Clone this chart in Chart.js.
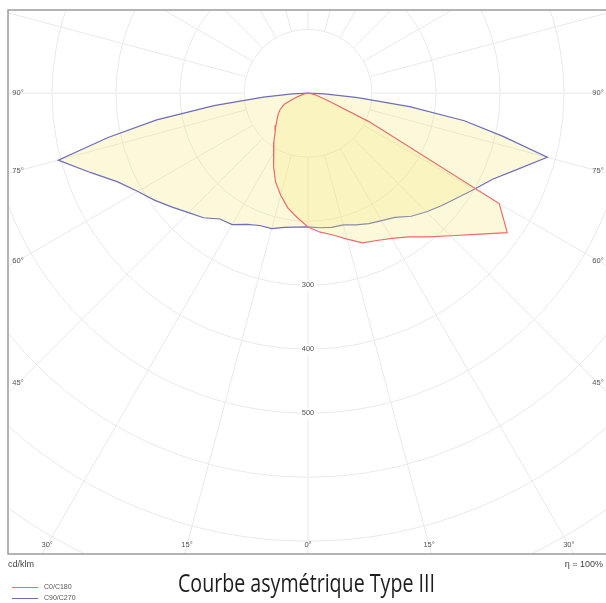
<!DOCTYPE html>
<html>
<head>
<meta charset="utf-8">
<script src="https://cdn.jsdelivr.net/npm/chart.js@4.4.1/dist/chart.umd.min.js"></script>
<style>
    body { margin: 0; background: #ffffff; }
    #caixa { width: 606px; height: 603px; position: relative; }
</style>
</head>
<body>
<div id="caixa"><canvas id="grafico-polar"></canvas></div>
<script>
// angulos gamma (0 = vertical para baixo) e intensidades em cd/klm
const gammaAngles = [0, 5, 10, 15, 20, 25, 30, 35, 40, 45, 50, 55, 60, 65, 70, 75, 77.5, 80, 82.5, 85, 87.5, 90];
const c0Values   = [209, 218, 225, 236, 249, 254, 262, 274, 293, 315, 343, 380, 345, 105, 32, 15, 11, 8, 5, 3, 1, 0];
const c180Values = [209, 195, 182, 165, 148, 127, 108, 93, 80, 71, 63, 57, 50, 41, 22, 10, 7, 5, 3, 2, 1, 0];
const c90Values  = [209, 211, 213, 213, 219, 225, 230, 237, 251, 262, 273, 285, 300, 318, 348, 387, 312, 248, 160, 78, 26, 0];
const c270Values = [209, 210, 213, 219, 220, 226, 237, 240, 254, 264, 277, 292, 307, 328, 362, 404, 320, 240, 148, 70, 25, 0];

const seriesNames = ['C0/C180', 'C90/C270'];
const gridCircles = [100, 200, 300, 400, 500, 600, 700, 800, 900, 1000];
const radialTicks = [300, 400, 500];
const sideAngles = [90, 75, 60, 45];
const bottomAngles = [-30, -15, 0, 15, 30];

document.addEventListener("DOMContentLoaded", function () {
    const ctx = document.getElementById('grafico-polar').getContext('2d');
    const rad = Math.PI / 180;

    // metade esquerda de 90 ate 0, depois metade direita de 0 ate 90
    function montarCurva(direita, esquerda) {
        const pts = [];
        for (let i = gammaAngles.length - 1; i >= 0; i--) {
            const g = gammaAngles[i] * rad;
            pts.push({ x: -esquerda[i] * Math.sin(g), y: -esquerda[i] * Math.cos(g) });
        }
        for (let i = 1; i < gammaAngles.length; i++) {
            const g = gammaAngles[i] * rad;
            pts.push({ x: direita[i] * Math.sin(g), y: -direita[i] * Math.cos(g) });
        }
        return pts;
    }

    const gradePolar = {
        id: 'gradePolar',
        beforeDatasetsDraw(chart) {
            const c = chart.ctx, a = chart.chartArea;
            const xs = chart.scales.x, ys = chart.scales.y;
            const cx = xs.getPixelForValue(0), cy = ys.getPixelForValue(0);
            const px = v => xs.getPixelForValue(v) - cx;
            c.save();
            c.beginPath();
            c.rect(a.left, a.top, a.right - a.left + 5, a.bottom - a.top);
            c.clip();
            c.strokeStyle = '#e9e9e9';
            c.lineWidth = 1;
            gridCircles.forEach(r => {
                c.beginPath();
                c.arc(cx, cy, px(r), 0, Math.PI * 2);
                c.stroke();
            });
            const r0 = px(gridCircles[0]), r1 = px(gridCircles[gridCircles.length - 1]);
            for (let ang = 0; ang < 360; ang += 15) {
                const s = Math.sin(ang * rad), co = Math.cos(ang * rad);
                c.beginPath();
                c.moveTo(cx + r0 * s, cy + r0 * co);
                c.lineTo(cx + r1 * s, cy + r1 * co);
                c.stroke();
            }
            c.restore();
        },
        afterDatasetsDraw(chart) {
            const c = chart.ctx, a = chart.chartArea;
            const xs = chart.scales.x, ys = chart.scales.y;
            const cx = xs.getPixelForValue(0), cy = ys.getPixelForValue(0);
            c.save();
            // moldura
            c.strokeStyle = '#9c9c9c';
            c.lineWidth = 1.5;
            c.beginPath();
            c.moveTo(chart.width, a.top);
            c.lineTo(a.left, a.top);
            c.lineTo(a.left, a.bottom);
            c.lineTo(chart.width, a.bottom);
            c.stroke();

            c.font = '7.5px "Liberation Sans", Arial, sans-serif';
            c.fillStyle = '#555555';
            c.textAlign = 'center';
            c.textBaseline = 'middle';

            // valores radiais sobre o eixo 0
            radialTicks.forEach(v => {
                const y = ys.getPixelForValue(-v);
                const w = c.measureText(String(v)).width;
                c.fillStyle = '#ffffff';
                c.fillRect(cx - w / 2 - 2, y - 5, w + 4, 10);
                c.fillStyle = '#555555';
                c.fillText(String(v), cx, y);
            });

            // angulos nas laterais
            const lx = a.left + 10, rx = chart.width - 8;
            sideAngles.forEach(ang => {
                const cot = Math.cos(ang * rad) / Math.sin(ang * rad);
                c.fillText(ang + '°', lx, cy + (cx - lx) * cot);
                c.fillText(ang + '°', rx, cy + (rx - cx) * cot);
            });
            // angulos embaixo
            const by = a.bottom - 9;
            bottomAngles.forEach(ang => {
                c.fillText(Math.abs(ang) + '°', cx + (by - cy) * Math.tan(ang * rad), by);
            });

            // unidades
            c.font = '9px "Liberation Sans", Arial, sans-serif';
            c.fillStyle = '#444444';
            c.textAlign = 'left';
            c.fillText('cd/klm', a.left, 565);
            c.textAlign = 'right';
            c.fillText('η = 100%', 603, 565);

            // legenda
            c.font = '7px "Liberation Sans", Arial, sans-serif';
            c.textAlign = 'left';
            chart.data.datasets.forEach((ds, i) => {
                const y = 587.5 + i * 11;
                c.strokeStyle = ds.borderColor;
                c.lineWidth = 1;
                c.beginPath();
                c.moveTo(12, y);
                c.lineTo(38, y);
                c.stroke();
                c.fillStyle = '#555555';
                c.fillText(ds.label, 44, y);
            });

            // titulo (fonte condensada)
            const titulo = 'Courbe asymétrique Type III';
            c.font = '26px "Open Sans", sans-serif';
            c.fillStyle = '#1e1e1e';
            c.textAlign = 'left';
            c.textBaseline = 'alphabetic';
            const tw = c.measureText(titulo).width;
            c.translate(178, 591.5);
            c.scale(257 / tw, 1);
            c.fillText(titulo, 0, 0);
            c.restore();
        }
    };

    const graficoPolar = new Chart(ctx, {
        type: 'scatter',
        data: {
            datasets: [{
                label: seriesNames[0],
                data: montarCurva(c0Values, c180Values),
                showLine: true,
                borderColor: '#ec6b6b',
                borderWidth: 1.2,
                backgroundColor: 'rgba(245, 232, 110, 0.25)',
                fill: 'shape',
                pointRadius: 0,
                tension: 0
            }, {
                label: seriesNames[1],
                data: montarCurva(c90Values, c270Values),
                showLine: true,
                borderColor: '#6d6dbd',
                borderWidth: 1.2,
                backgroundColor: 'rgba(245, 232, 110, 0.25)',
                fill: 'shape',
                pointRadius: 0,
                tension: 0
            }]
        },
        options: {
            responsive: true,
            maintainAspectRatio: false,
            animation: false,
            layout: { padding: { left: 8, top: 10, right: 1, bottom: 49 } },
            plugins: {
                legend: { display: false },
                tooltip: { enabled: false }
            },
            scales: {
                x: { type: 'linear', min: -468.75, max: 464, display: false },
                y: { type: 'linear', min: -720, max: 130, display: false }
            }
        },
        plugins: [gradePolar]
    });
});
</script>
</body>
</html>
